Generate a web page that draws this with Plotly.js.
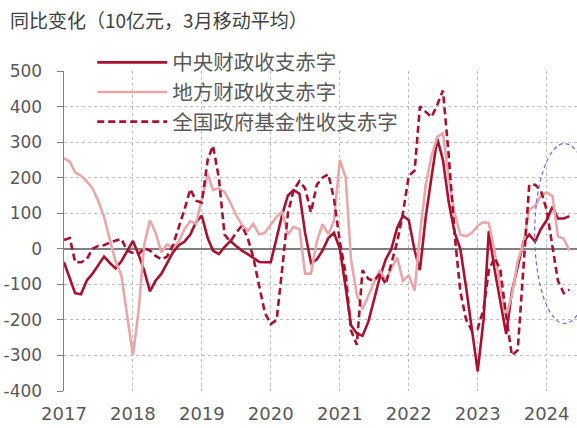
<!DOCTYPE html>
<html><head><meta charset="utf-8">
<script src="https://cdn.plot.ly/plotly-3.0.1.min.js"></script>
<style>html,body{margin:0;padding:0;background:#fff}#chart{width:577px;height:428px}</style>
</head><body><div id="chart"></div>
<script>
// Monthly data, Jan 2017 .. May 2024 (10亿元, 3月移动平均)
const firstMonth = '2017-01';
const central = [-38,-85,-125,-128,-90,-70,-45,-22,-40,-55,-35,-5,
  22,-18,-60,-120,-90,-70,-42,-10,10,20,40,75,
  93,30,-5,-15,5,22,8,-5,-15,-25,-37,-38,
  -38,30,95,150,165,155,45,-40,-30,-5,30,45,
  0,-110,-215,-238,-245,-205,-140,-80,-30,0,60,93,
  80,-5,-60,90,200,310,250,130,45,0,-110,-230,
  -345,-200,50,-60,-150,-240,-120,-50,20,40,20,55,
  80,118,85,85,92];
const local = [255,245,215,205,190,170,135,90,25,-35,-75,-190,
  -300,-170,10,80,45,-10,12,4,20,55,78,70,
  140,210,165,170,160,130,95,68,50,70,40,45,
  68,90,105,40,62,55,-70,-70,20,69,41,79,
  250,200,-30,-130,-170,-130,-95,-60,-90,-55,-25,-90,
  -75,-118,40,180,260,315,325,200,100,40,35,45,
  65,75,72,-10,-110,-190,-130,-35,15,110,120,150,
  158,148,35,28,-5];
const fund = [25,30,-38,-38,-30,0,8,10,18,22,28,-5,
  -12,-15,2,-5,-20,-30,-22,10,60,110,168,135,
  130,250,290,200,40,20,45,65,30,-25,-105,-180,
  -212,-200,-60,100,165,190,170,102,180,200,210,140,
  20,-70,-230,-270,-60,-85,-90,-70,-100,-40,20,100,
  205,220,400,385,370,405,445,260,40,-120,-200,-230,
  -225,-170,-60,-25,-60,-190,-300,-285,-60,180,180,165,
  110,10,-90,-125,-115];
const seriesNames = ['中央财政收支赤字','地方财政收支赤字','全国政府基金性收支赤字'];
const yearTicks = ['2017','2018','2019','2020','2021','2022','2023','2024'];
const yTicks = [-400,-300,-200,-100,0,100,200,300,400,500];
const yTickText = ['-400','-300','-200','-100','0','100','200','300','400','500'];
const highlight = {x0:'2023-10-30', x1:'2024-09-10', y0:-210, y1:296};

function months(n){
  const out=[]; let [y,m]=firstMonth.split('-').map(Number);
  for(let i=0;i<n;i++){ out.push(y+'-'+String(m).padStart(2,'0')+'-01'); m++; if(m>12){m=1;y++;} }
  return out;
}
const x = months(central.length);
const dark = '#A8112F', pink = '#E8A8A9';
const traces = [
  {x:x, y:central, name:seriesNames[0], type:'scatter', mode:'lines', legendgroup:'a',
   line:{color:dark, width:2.6}},
  {x:x, y:local, name:seriesNames[1], type:'scatter', mode:'lines', legendgroup:'b',
   line:{color:pink, width:2.6}},
  {x:x, y:fund, name:seriesNames[2], type:'scatter', mode:'lines', legendgroup:'c',
   line:{color:dark, width:2.6, dash:'7px,4px'}}
];
const cjk = '"Noto Sans CJK SC", "Noto Sans", sans-serif';
const latin = '"DejaVu Sans", Verdana, sans-serif';
const layout = {
  width:577, height:428,
  margin:{l:64, r:0, t:71, b:37},
  paper_bgcolor:'#fff', plot_bgcolor:'#fff',
  showlegend:true,
  title:{text:'同比变化（10亿元，3月移动平均）', x:10/577, xref:'container', xanchor:'left',
         y:1-21/428, yref:'container', yanchor:'middle',
         font:{family:cjk, size:19, color:'#404040'}},
  legend:{x:0.055, y:1.089, xanchor:'left', yanchor:'top', bgcolor:'rgba(0,0,0,0)',
          font:{family:cjk, size:20.5, color:'#595959'}, itemwidth:70, tracegroupgap:0,
          traceorder:'grouped'},
  xaxis:{type:'date', range:['2017-01-01','2024-06-10'],
         tickvals:yearTicks.map(t=>t+'-01-01'), ticktext:yearTicks,
         showgrid:true, gridcolor:'#BFBFBF', griddash:'dot', gridwidth:1,
         ticks:'', showline:false, zeroline:false, ticklabelstandoff:10,
         tickfont:{family:latin, size:18, color:'#595959'}},
  yaxis:{range:[-400,500], tickvals:yTicks, ticktext:yTickText,
         showgrid:true, gridcolor:'#BFBFBF', griddash:'dot', gridwidth:1,
         zeroline:true, zerolinecolor:'#808080', zerolinewidth:1.6,
         showline:true, linecolor:'#808080', linewidth:1.5, ticks:'outside', ticklen:6, tickcolor:'#808080',
         ticklabelstandoff:11,
         tickfont:{family:latin, size:17, color:'#595959'}},
  shapes:[{type:'circle', xref:'x', yref:'y', x0:highlight.x0, x1:highlight.x1, y0:highlight.y0, y1:highlight.y1,
           line:{color:'#6A6AEE', width:1.2, dash:'4px,3px'}}]
};
Plotly.newPlot('chart', traces, layout, {displayModeBar:false, staticPlot:true});
</script></body></html>
